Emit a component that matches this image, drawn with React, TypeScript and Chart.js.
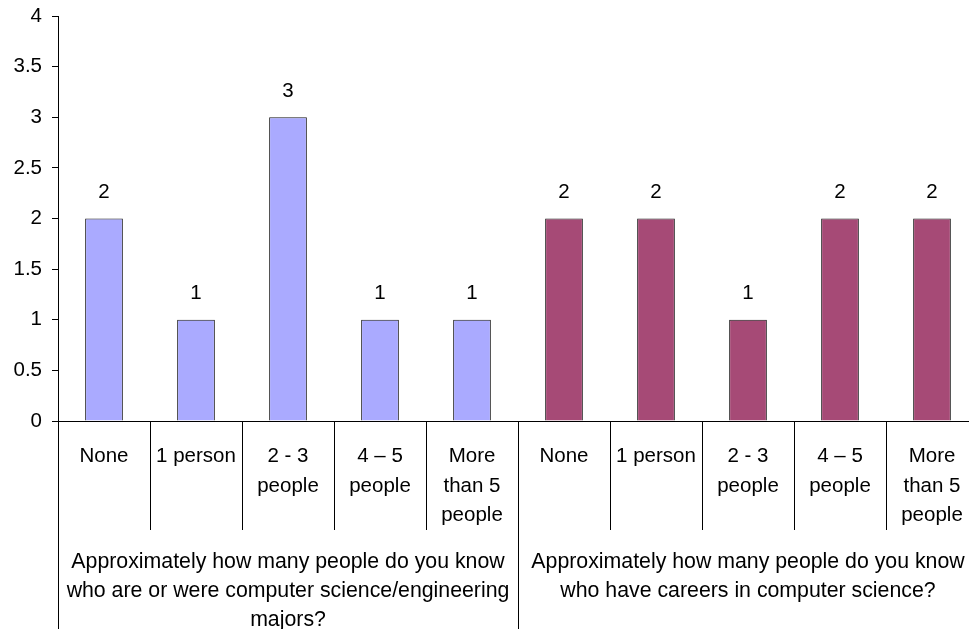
import React, { useEffect, useRef } from "react";
import { Chart, registerables } from "chart.js";

Chart.register(...registerables);

// Answer categories along the x axis (one row per line of the label)
const categories: string[][] = [
  ["None"],
  ["1 person"],
  ["2 - 3", "people"],
  ["4 \u2013 5", "people"],
  ["More", "than 5", "people"],
  ["None"],
  ["1 person"],
  ["2 - 3", "people"],
  ["4 \u2013 5", "people"],
  ["More", "than 5", "people"],
];

// Responses to "...computer science/engineering majors?"
const majorsCounts = [2, 1, 3, 1, 1, null, null, null, null, null];
// Responses to "...careers in computer science?"
const careersCounts = [null, null, null, null, null, 2, 2, 1, 2, 2];

const yTicks = [0, 0.5, 1, 1.5, 2, 2.5, 3, 3.5, 4];

// Question headings, each spanning five categories
const groupTitles: string[][] = [
  [
    "Approximately how many people do you know",
    "who are or were computer science/engineering",
    "majors?",
  ],
  ["Approximately how many people do you know", "who have careers in computer science?"],
];
const groupSize = 5;

const FONT = "Liberation Sans, Arial, Helvetica, sans-serif";
const FONT_SIZE = 20.5;
const TITLE_FONT_SIZE = 21.3;

const annotate = {
  id: "annotate",
  afterDatasetsDraw(chart: any) {
    const { ctx, chartArea } = chart;
    const x = chart.scales.x;
    const n = categories.length;
    const half = (x.getPixelForValue(1) - x.getPixelForValue(0)) / 2;
    const bottom = chart.height;
    ctx.save();

    // value labels above bars
    ctx.font = `${FONT_SIZE}px ${FONT}`;
    ctx.fillStyle = "#000";
    ctx.textAlign = "center";
    ctx.textBaseline = "middle";
    chart.data.datasets.forEach((ds: any, di: number) => {
      const meta = chart.getDatasetMeta(di);
      ds.data.forEach((v: number | null, i: number) => {
        if (v == null) return;
        const el = meta.data[i];
        ctx.fillText(String(v), el.x, el.y - 26);
      });
    });

    // category separators below the axis
    ctx.strokeStyle = "#000";
    ctx.lineWidth = 1;
    for (let i = 0; i <= n; i++) {
      const px = Math.round(x.getPixelForValue(i) - half) + 0.5;
      const isGroupEdge = i % groupSize === 0;
      ctx.beginPath();
      ctx.moveTo(px, chartArea.bottom);
      ctx.lineTo(px, isGroupEdge ? bottom : chartArea.bottom + 109);
      ctx.stroke();
    }

    // question headings
    ctx.font = `${TITLE_FONT_SIZE}px ${FONT}`;
    groupTitles.forEach((lines, g) => {
      const l = x.getPixelForValue(g * groupSize) - half;
      const r = x.getPixelForValue(g * groupSize + groupSize - 1) + half;
      const cx = (l + r) / 2;
      lines.forEach((t, li) => {
        ctx.fillText(t, cx, chartArea.bottom + 141 + li * 29);
      });
    });
    ctx.restore();
  },
};

export default function App() {
  const ref = useRef<HTMLCanvasElement | null>(null);

  useEffect(() => {
    if (!ref.current) return;
    const chart = new Chart(ref.current, {
      type: "bar",
      data: {
        labels: categories,
        datasets: [
          {
            data: majorsCounts,
            backgroundColor: "#AAAAFF",
            borderColor: "#1a1a1a",
            borderWidth: 1,
            barPercentage: 0.41,
            categoryPercentage: 1,
            skipNull: true,
          } as any,
          {
            data: careersCounts,
            backgroundColor: "#A64A76",
            borderColor: "#1a1a1a",
            borderWidth: 1,
            barPercentage: 0.41,
            categoryPercentage: 1,
            skipNull: true,
          } as any,
        ],
      },
      options: {
        responsive: false,
        animation: false,
        devicePixelRatio: 1,
        layout: { padding: { top: 16, right: 2, left: 0, bottom: 0 } },
        plugins: {
          legend: { display: false },
          tooltip: { enabled: false },
        },
        scales: {
          x: {
            stacked: false,
            offset: true,
            grid: { display: false, drawTicks: false },
            border: { display: true, color: "#000", width: 1 },
            ticks: {
              autoSkip: false,
              maxRotation: 0,
              minRotation: 0,
              padding: 21,
              color: "#000",
              font: { family: FONT, size: FONT_SIZE, lineHeight: 1.44 },
            },
            afterFit: (s: any) => {
              s.height = 208;
              s.paddingLeft = 0;
              s.paddingRight = 0;
            },
          },
          y: {
            min: 0,
            max: 4,
            afterBuildTicks: (s: any) => {
              s.ticks = yTicks.map((v) => ({ value: v }));
            },
            grid: {
              drawOnChartArea: false,
              drawTicks: true,
              tickLength: 6,
              tickColor: "#000",
            },
            border: { display: true, color: "#000", width: 1 },
            ticks: {
              padding: 10,
              color: "#000",
              font: { family: FONT, size: FONT_SIZE },
              callback: (v: any) => String(v),
            },
            afterFit: (s: any) => {
              s.width = 58;
              s.paddingTop = 0;
              s.paddingBottom = 0;
            },
          },
        },
      },
      plugins: [annotate],
    });
    return () => chart.destroy();
  }, []);

  return (
    <div
      style={{
        position: "fixed",
        left: 0,
        top: 0,
        width: 969,
        height: 629,
        overflow: "hidden",
        background: "#fff",
      }}
    >
      <canvas ref={ref} width={980} height={629} style={{ width: 980, height: 629 }} />
    </div>
  );
}
